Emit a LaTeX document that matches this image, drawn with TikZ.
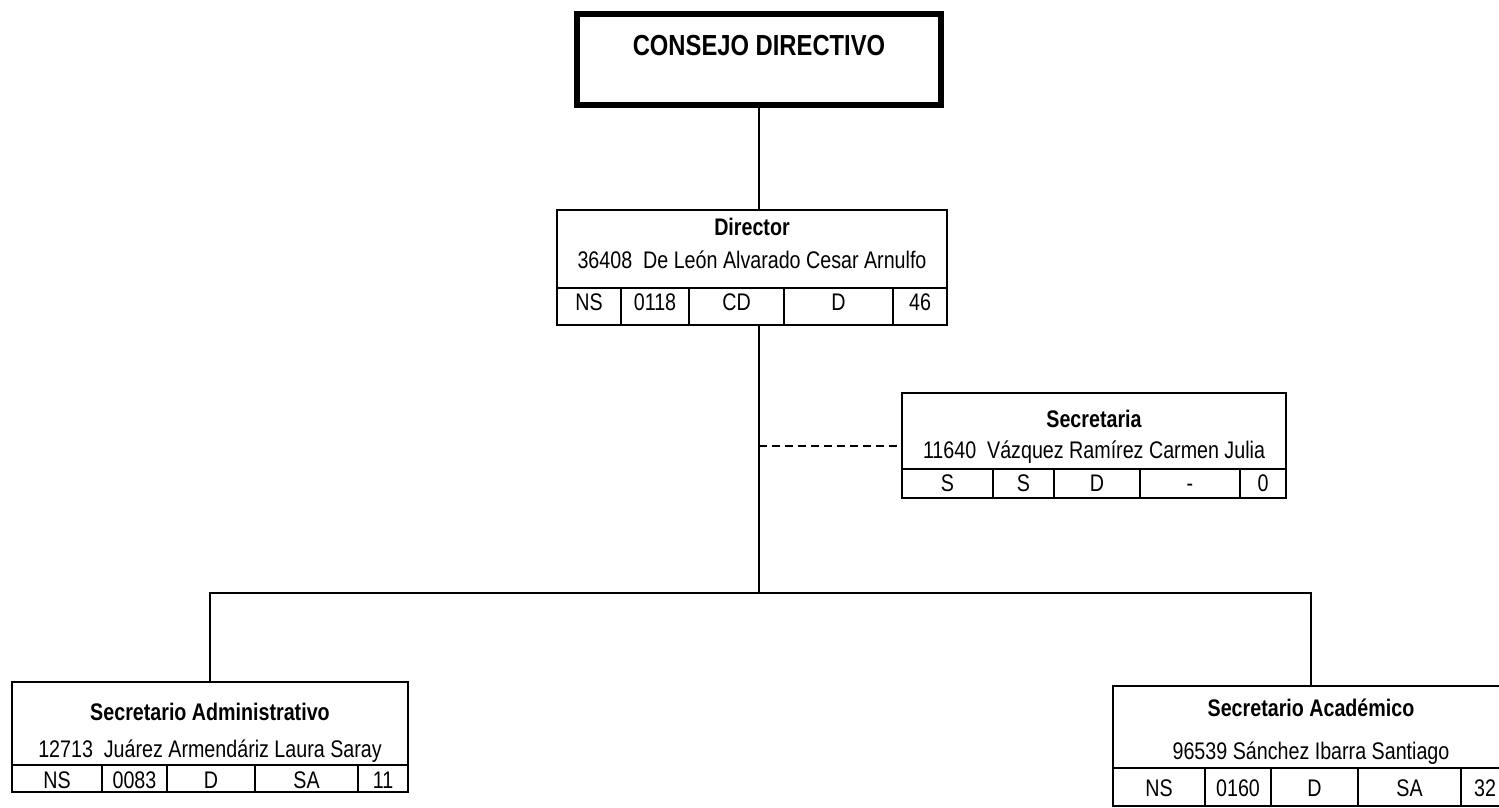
\documentclass[tikz,border=0pt]{standalone}
\usepackage{fontspec}
\setmainfont{Liberation Sans}[FakeStretch=0.82]
\usetikzlibrary{positioning}

\begin{document}
\begin{tikzpicture}[x=1pt,y=-1pt,
  box/.style={draw,line width=2pt,inner sep=0pt},
  txt/.style={font=\fontsize{24}{28}\selectfont,anchor=base,inner sep=0pt},
  ttl/.style={txt,font=\fontsize{24}{28}\selectfont\bfseries},
  link/.style={line width=2pt}]
  \useasboundingbox (0,0) rectangle (1499,808);

  % consejo
  \node[box,line width=5.5pt,minimum width=364pt,minimum height=91pt] (consejo) at (759,59.5) {};
  \node[ttl,font=\fontsize{29}{34}\selectfont\bfseries] (consejo-t) at (759,56) {CONSEJO DIRECTIVO};

  % director
  \node[box,minimum width=390pt,minimum height=115pt] (director) at (752,267.5) {};
  \node[ttl] (director-t) at (752,235) {Director};
  \node[txt] (director-n) at (752,268) {36408\ \ De León Alvarado Cesar Arnulfo};
  \draw[link] (557,288) -- (947,288);
  \foreach \x in {621,689,784,893} \draw[link] (\x,288) -- (\x,325);
  \foreach \xa/\xb/\t [count=\i] in {557/621/NS,621/689/0118,689/784/CD,784/893/D,893/947/46}
    \node[txt] (director-\i) at ({(\xa+\xb)/2},310) {\t};

  % secretaria
  \node[box,minimum width=384pt,minimum height=105pt] (secretaria) at (1094,445.5) {};
  \node[ttl] (secretaria-t) at (1094,427) {Secretaria};
  \node[txt] (secretaria-n) at (1094,458) {11640\ \ Vázquez Ramírez Carmen Julia};
  \draw[link] (902,469) -- (1286,469);
  \foreach \x in {993,1054,1140,1240} \draw[link] (\x,469) -- (\x,498);
  \foreach \xa/\xb/\t [count=\i] in {902/993/S,993/1054/S,1054/1140/D,1140/1240/-,1240/1286/0}
    \node[txt] (secretaria-\i) at ({(\xa+\xb)/2},491) {\t};

  % secretario administrativo
  \node[box,minimum width=396pt,minimum height=110pt] (admin) at (210,737) {};
  \node[ttl] (admin-t) at (210,720) {Secretario Administrativo};
  \node[txt] (admin-n) at (210,757) {12713\ \ Juárez Armendáriz Laura Saray};
  \draw[link] (12,765) -- (408,765);
  \foreach \x in {102,167,255,358} \draw[link] (\x,765) -- (\x,792);
  \foreach \xa/\xb/\t [count=\i] in {12/102/NS,102/167/0083,167/255/D,255/358/SA,358/408/11}
    \node[txt] (admin-\i) at ({(\xa+\xb)/2},788) {\t};

  % secretario academico
  \node[box,minimum width=396pt,minimum height=120pt] (academico) at (1311,746) {};
  \node[ttl] (academico-t) at (1311,716) {Secretario Académico};
  \node[txt] (academico-n) at (1311,759) {96539 Sánchez Ibarra Santiago};
  \draw[link] (1113,768) -- (1509,768);
  \foreach \x in {1205,1271,1358,1461} \draw[link] (\x,768) -- (\x,806);
  \foreach \xa/\xb/\t [count=\i] in {1113/1205/NS,1205/1271/0160,1271/1358/D,1358/1461/SA,1461/1509/32}
    \node[txt] (academico-\i) at ({(\xa+\xb)/2},796) {\t};

  % lines
  \coordinate (bus) at (759,593);
  \draw[link] (consejo.south) -- (consejo.south |- director.north);
  \draw[link] (bus |- director.south) -- (bus);
  \draw[link,dash pattern=on 8pt off 5pt] (bus |- secretaria.west) -- (secretaria.west);
  \draw[link] (admin.north) -- (admin.north |- bus) -- (academico.north |- bus) -- (academico.north);
\end{tikzpicture}
\end{document}
